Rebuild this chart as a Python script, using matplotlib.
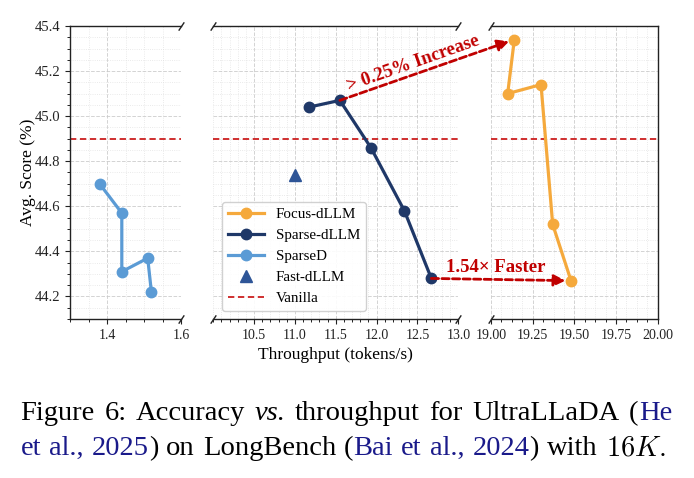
import matplotlib
matplotlib.use("Agg")
import matplotlib.pyplot as plt
from matplotlib.ticker import MultipleLocator, FormatStrFormatter
from matplotlib.patches import ConnectionPatch
from matplotlib.lines import Line2D

plt.rcParams['font.family'] = ['Liberation Serif', 'DejaVu Serif']
plt.rcParams['mathtext.fontset'] = 'cm'

# ---------------- data ----------------
sparsed_x = [1.38, 1.44, 1.44, 1.51, 1.52]
sparsed_y = [44.70, 44.57, 44.31, 44.37, 44.22]

sparse_dllm_x = [11.17, 11.55, 11.93, 12.34, 12.67]
sparse_dllm_y = [45.04, 45.07, 44.86, 44.58, 44.28]

fast_dllm_x = [11.0]
fast_dllm_y = [44.74]

focus_dllm_x = [19.14, 19.10, 19.30, 19.37, 19.48]
focus_dllm_y = [45.34, 45.10, 45.14, 44.52, 44.27]

vanilla_y = 44.90

left_ticks = [1.4, 1.6]
mid_ticks = [10.5, 11.0, 11.5, 12.0, 12.5, 13.0]
right_ticks = [19.00, 19.25, 19.50, 19.75, 20.00]
y_ticks = [44.2, 44.4, 44.6, 44.8, 45.0, 45.2, 45.4]

labels = ['Focus-dLLM', 'Sparse-dLLM', 'SparseD', 'Fast-dLLM', 'Vanilla']
increase_text = '> 0.25% Increase'
faster_text = '1.54× Faster'

# ---------------- style ----------------
C_FOCUS = '#F5A93C'
C_SPARSE = '#1F3868'
C_SPARSED = '#5B9BD5'
C_FAST = '#2E5597'
C_RED = '#C00000'
C_VAN = '#CC1F1F'
BLUE_CITE = '#1A1A8A'

W, H = 694, 478
fig = plt.figure(figsize=(W / 100, H / 100), dpi=100)

def px_axes(l, r, t, b):
    return fig.add_axes([l / W, 1 - b / H, (r - l) / W, (b - t) / H])

ax1 = px_axes(70, 181, 26, 319)
ax2 = px_axes(213.3, 458.3, 26, 319)
ax3 = px_axes(491, 657.7, 26, 319)

LW = 2.3
MS = 7.5

for ax in (ax1, ax2, ax3):
    ax.set_ylim(44.1, 45.4)
    ax.yaxis.set_major_locator(MultipleLocator(0.2))
    ax.yaxis.set_minor_locator(MultipleLocator(0.05))
    ax.grid(True, which='major', linestyle='--', color='#c8c8c8', lw=0.7, alpha=0.8)
    ax.grid(True, which='minor', linestyle=':', color='#dcdcdc', lw=0.6, alpha=0.8)
    ax.set_axisbelow(True)
    ax.axhline(vanilla_y, color=C_VAN, ls=(0, (3.5, 2)), lw=1.3, zorder=2)
    for s in ax.spines.values():
        s.set_color('#222222')
        s.set_linewidth(1.0)
    ax.tick_params(axis='x', labelsize=10, colors='#222222')
    ax.tick_params(axis='y', labelsize=10.5, colors='#222222')

# left axis
ax1.set_xlim(1.3, 1.6)
ax1.set_xticks(left_ticks)
ax1.xaxis.set_minor_locator(MultipleLocator(0.05))
ax1.xaxis.set_major_formatter(FormatStrFormatter('%.1f'))
ax1.set_yticks(y_ticks)
ax1.yaxis.set_major_formatter(FormatStrFormatter('%.1f'))
ax1.spines['right'].set_visible(False)
ax1.plot(sparsed_x, sparsed_y, '-o', color=C_SPARSED, lw=LW, ms=MS, zorder=3)
ax1.set_ylabel('Avg. Score (%)', fontsize=12.5)
ax1.yaxis.set_label_coords(-0.31, 0.5)

# middle axis
ax2.set_xlim(10.0, 13.0)
ax2.set_xticks(mid_ticks)
ax2.xaxis.set_minor_locator(MultipleLocator(0.1))
ax2.xaxis.set_major_formatter(FormatStrFormatter('%.1f'))
ax2.spines['left'].set_visible(False)
ax2.spines['right'].set_visible(False)
ax2.tick_params(axis='y', which='both', left=False, labelleft=False)
ax2.plot(sparse_dllm_x, sparse_dllm_y, '-o', color=C_SPARSE, lw=LW, ms=MS, zorder=3)
ax2.plot(fast_dllm_x, fast_dllm_y, '^', color=C_FAST, ms=8.5, zorder=3)
ax2.set_xlabel('Throughput (tokens/s)', fontsize=12.5)

# right axis
ax3.set_xlim(19.0, 20.0)
ax3.set_xticks(right_ticks)
ax3.xaxis.set_minor_locator(MultipleLocator(0.0625))
ax3.xaxis.set_major_formatter(FormatStrFormatter('%.2f'))
ax3.spines['left'].set_visible(False)
ax3.tick_params(axis='y', which='both', left=False, labelleft=False)
ax3.plot(focus_dllm_x, focus_dllm_y, '-o', color=C_FOCUS, lw=LW, ms=MS, zorder=3)

# break marks
bk = dict(marker=[(-1, -1.5), (1, 1.5)], markersize=6, linestyle='none',
          color='#222222', mec='#222222', mew=1.0, clip_on=False)
ax1.plot([1, 1], [0, 1], transform=ax1.transAxes, **bk)
ax2.plot([0, 0, 1, 1], [0, 1, 0, 1], transform=ax2.transAxes, **bk)
ax3.plot([0, 0], [0, 1], transform=ax3.transAxes, **bk)

# legend
handles = [
    Line2D([], [], color=C_FOCUS, lw=LW, marker='o', ms=MS),
    Line2D([], [], color=C_SPARSE, lw=LW, marker='o', ms=MS),
    Line2D([], [], color=C_SPARSED, lw=LW, marker='o', ms=MS),
    Line2D([], [], color=C_FAST, lw=0, marker='^', ms=8.5),
    Line2D([], [], color=C_VAN, lw=1.3, ls=(0, (3.5, 2))),
]
leg = ax2.legend(handles, labels, loc='lower left', bbox_to_anchor=(0.034, 0.027),
                 borderaxespad=0, fontsize=10.8, handlelength=2.4, labelspacing=0.5,
                 frameon=True, fancybox=True, framealpha=0.9, edgecolor='#cccccc')
leg.set_zorder(5)

# arrows across axes
dash = (0, (2.6, 1.2))
arr1 = ConnectionPatch(xyA=(sparse_dllm_x[1], sparse_dllm_y[1]), coordsA=ax2.transData,
                       xyB=(focus_dllm_x[0], focus_dllm_y[0]), coordsB=ax3.transData,
                       arrowstyle='-|>', mutation_scale=17, color=C_RED, lw=2.0,
                       linestyle=dash, shrinkA=0, shrinkB=4, zorder=6)
fig.add_artist(arr1)
arr2 = ConnectionPatch(xyA=(sparse_dllm_x[-1], sparse_dllm_y[-1]), coordsA=ax2.transData,
                       xyB=(focus_dllm_x[-1], focus_dllm_y[-1]), coordsB=ax3.transData,
                       arrowstyle='-|>', mutation_scale=17, color=C_RED, lw=2.0,
                       linestyle=dash, shrinkA=0, shrinkB=4, zorder=6)
fig.add_artist(arr2)

fig.text(413 / W, 1 - 63 / H, increase_text, rotation=19.5, rotation_mode='anchor',
         ha='center', va='center', fontsize=13.5, fontweight='bold', color=C_RED)
fig.text(496 / W, 1 - 271.5 / H, faster_text, ha='center', va='baseline',
         fontsize=13.5, fontweight='bold', color=C_RED)

# ---------------- caption ----------------
K = 'black'
B = BLUE_CITE
cap_line1 = [
    [('Figure', K, 'normal')], [('6:', K, 'normal')], [('Accuracy', K, 'normal')],
    [('vs.', K, 'italic')], [('throughput', K, 'normal')], [('for', K, 'normal')],
    [('UltraLLaDA', K, 'normal')], [('(', K, 'normal'), ('He', B, 'normal')],
]
cap_line2 = [
    [('et', B, 'normal')], [('al.,', B, 'normal')], [('2025', B, 'normal'), (')', K, 'normal')],
    [('on', K, 'normal')], [('LongBench', K, 'normal')], [('(', K, 'normal'), ('Bai', B, 'normal')],
    [('et', B, 'normal')], [('al.,', B, 'normal')], [('2024', B, 'normal'), (')', K, 'normal')],
    [('with', K, 'normal')], [('$16K.$', K, 'normal')],
]

fig.canvas.draw()
renderer = fig.canvas.get_renderer()

def advance(text, style, fs):
    t = fig.text(0, 0, '|' + text + '|', fontsize=fs, fontstyle=style)
    w_all = t.get_window_extent(renderer).width
    t.remove()
    t2 = fig.text(0, 0, '||', fontsize=fs, fontstyle=style)
    w_bars = t2.get_window_extent(renderer).width
    t2.remove()
    return w_all - w_bars

def natural_width(words, fs):
    total = sum(advance(t, st, fs) for w in words for (t, c, st) in w)
    sp = advance(' ', 'normal', fs)
    return total + sp * (len(words) - 1)

CAP_FS = 20.5
target1 = 672 - 20.5
nat = natural_width(cap_line1, CAP_FS)
if nat > target1 * 0.99:
    CAP_FS = CAP_FS * target1 * 0.99 / nat

def draw_line(words, y_px, x0_px, x1_px, fs):
    widths = [[advance(t, st, fs) for (t, c, st) in w] for w in words]
    total = sum(sum(ws) for ws in widths)
    gap = (x1_px - x0_px - total) / (len(words) - 1)
    x = x0_px
    for w, ws in zip(words, widths):
        for (t, c, st), wd in zip(w, ws):
            fig.text(x / W, 1 - y_px / H, t, fontsize=fs, fontstyle=st, color=c,
                     ha='left', va='baseline')
            x += wd
        x += gap

draw_line(cap_line1, 420, 20.5, 672, CAP_FS)
draw_line(cap_line2, 455, 20.5, 671, CAP_FS)

fig.savefig('out.png', dpi=100)
